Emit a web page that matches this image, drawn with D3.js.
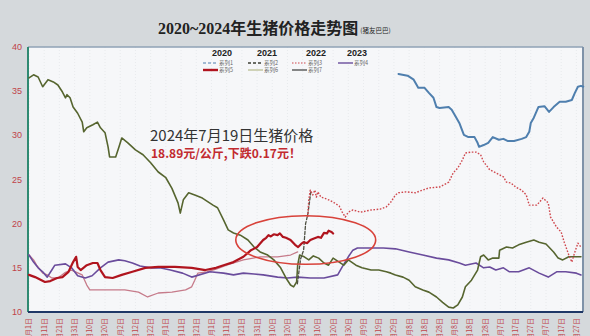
<!DOCTYPE html>
<html>
<head>
<meta charset="utf-8">
<script src="https://cdn.jsdelivr.net/npm/d3@7/dist/d3.min.js"></script>
<style>
  html, body { margin: 0; padding: 0; background: #d5d9dc; }
  svg { display: block; }
</style>
</head>
<body>
<svg id="chart" width="590" height="336"></svg>
<script>
// Live hog price, yuan/kg, by day of year: [day, price]
const series2020 = [
  [244,36.95],[250,36.75],[254,36.3],[257,35.4],[261,35.4],[264,34.8],[267,34.25],[269,33.2],
  [271,33.1],[277,33.2],[279,32.9],[281,32.3],[284,31.4],[287,30.05],[290,29.8],[294,29.8],
  [296,29.15],[297,28.7],[300,28.9],[303,29.15],[306,29.8],[310,29.5],[313,29.6],[316,29.35],
  [320,29.35],[325,29.6],[328,29.8],[330,30.4],[331,31.4],[333,32.0],[336,33.2],[340,33.3],
  [343,32.65],[346,33.2],[350,33.8],[354,33.8],[358,34.0],[360,34.8],[362,35.5],[364,35.6],[365.5,35.5]
];
const series2021 = [
  [1,36.5],[4,36.85],[7,36.6],[10,35.5],[13.5,36.3],[17,36.05],[20,35.7],[23,34.9],[25,34.25],
  [26,34.6],[28,34.25],[30,33.2],[33,32.5],[36,31.5],[37,30.4],[39,30.85],[43,31.2],[46,31.5],
  [48,30.85],[51,30.3],[53,28.7],[54,27.55],[58,27.55],[60,28.6],[62,29.7],[66,29.15],[71,28.35],
  [76,27.8],[81,26.9],[86,25.85],[91,25.2],[95,24.0],[99,22.35],[100.5,21.2],[102.5,22.7],
  [106,23.5],[110,23.25],[115,22.9],[122,22.1],[125,21.8],[129,20.4],[132,19.3],[135.5,18.95],
  [140,18.7],[145,18.15],[149,17.35],[153,16.8],[158,16.45],[162,15.9],[166.5,15.0],[170,13.85],
  [173,13.05],[175,12.85],[177,13.4],[177.7,15.3],[179,16.45],[182,16.25],[185,15.9],[188,16.35],
  [191.5,16.1],[195,15.55],[198,15.3],[201,16.1],[205,15.65],[208,15.3],[211,15.9],[216,15.3],
  [220,15.0],[226,14.75],[231,14.75],[236,14.55],[239,14.4],[242,14.2],[247,13.95],[251,13.6],
  [255,12.85],[260,12.5],[264,12.25],[269,11.7],[273,11.1],[277,10.55],[280,10.45],[283,10.8],
  [286,11.7],[288,12.85],[292,13.6],[296,14.75],[298,16.25],[300,16.45],[303,15.9],[306,16.1],
  [310,16.1],[310.5,17.0],[315,17.35],[319,17.25],[323,17.6],[328,17.9],[333,18.15],[336.5,17.9],
  [341,17.7],[346,16.8],[349,16.1],[352,15.9],[356,16.25],[359,16.25],[364,16.25]
];
const series2022a = [
  [1,16.45],[4,15.9],[6,15.3],[10,14.4],[13,14.2],[16,13.85],[20,13.85],[25,14.5],[29,14.75],
  [36,14.2],[39,13.05],[41,12.5],[44.5,12.5],[56,12.5],[64,12.5],[73,12.25],[79,11.7],[86,12.15],
  [95,12.25],[104,12.5],[108,12.85],[110,13.6],[112,14.4],[118,14.55],[124,14.85],[131,15.3],
  [142,15.9],[153,16.25],[164.5,16.25],[173,16.45],[177.7,16.8]
];
const series2022jump = [
  [177.5,13.2],[179.6,16.0],[181.6,17.0],[182.9,20.0],[184.3,21.0],[185.5,22.5],[186.5,23.8]
];
const series2022b = [
  [184.3,20.75],[185,22.7],[186,23.8],[187.6,23.25],[189,23.8],[190,23.0],[191,23.6],[193,23.0],
  [195,22.9],[198,22.7],[201,22.45],[205,22.0],[207,21.3],[209,20.75],[211,21.3],[214,21.55],
  [219,21.3],[226,21.55],[232,21.65],[236,21.9],[239,22.45],[242,23.25],[244,23.5],[249,23.6],
  [255,23.5],[264,24.05],[271,24.15],[277,24.7],[280,25.75],[283,26.3],[286,27.2],[288,28.0],
  [292,28.1],[295,28.1],[298,27.8],[300,27.0],[304,26.1],[308,25.75],[313,25.3],[315,24.7],
  [318,24.6],[321,24.15],[325,23.8],[328,23.25],[330,22.1],[335,22.1],[339,22.9],[342.5,22.35],
  [344,20.75],[348,19.6],[351,19.05],[353,17.9],[356,16.45],[358,15.65],[360,16.8],[362,17.8],[364,17.35]
];
const series2023 = [
  [1,16.45],[4,15.65],[7,15.0],[10,14.55],[13,13.95],[16,14.75],[18,15.3],[25,15.45],[29,15.0],
  [33,14.1],[38,13.85],[42.5,14.1],[48,15.0],[53,15.65],[60,15.9],[64,15.8],[69,15.55],[74,15.2],
  [81,15.0],[87,15.0],[94,14.75],[102,14.4],[108,13.95],[120,14.55],[129,14.4],[135.5,14.2],
  [142,14.4],[149,14.3],[155,14.2],[164.5,13.95],[171,13.85],[177.7,13.95],[186,13.85],[195,13.85],
  [204,14.2],[207,15.1],[211,16.25],[214,17.0],[217,17.25],[226,17.25],[234,17.25],[242,17.15],
  [251,16.8],[260,16.45],[269,16.1],[277,15.9],[284,15.55],[288,15.3],[295,15.55],[300,15.0],
  [304,15.1],[308,14.75],[313,15.0],[317,14.55],[323,14.55],[330,15.0],[336.5,14.4],[342.5,13.95],
  [348,14.55],[354,14.55],[361,14.4],[364,14.2]
];
const series2024 = [
  [1,14.2],[5,13.95],[11.5,13.4],[15,13.5],[19.5,13.85],[23,13.95],[27,14.55],[30,15.65],[32,16.25],
  [33,15.1],[35,14.75],[39,15.3],[43,15.55],[46,15.55],[48,14.75],[51,13.95],[56,13.85],[62,14.2],
  [69,14.55],[77.5,15.0],[86,15.1],[97,15.1],[108,15.0],[117,14.75],[124,15.0],[129,15.3],
  [135.5,15.65],[142,16.25],[147,17.0],[151,17.35],[155,18.15],[157,18.4],[158.5,18.7],[160,18.55],
  [162,18.8],[164.5,18.7],[166,18.9],[168,18.5],[170,18.4],[173,18.15],[176,17.6],[178,17.35],
  [180,17.7],[181.6,17.9],[184,17.8],[186,18.15],[188,18.3],[191,18.5],[193,18.4],[195,18.95],
  [197,18.9],[198,19.2],[200,19.06],[201,18.89]
];

const xTickDays = [1,11,21,31,41,51,61,71,81,91,101,111,121,131,141,151,161,171,181,191,201,211,
  221,231,241,251,261,271,281,291,301,311,321,331,341,351,361];
const xTickLabels = ["1月1日","1月11日","1月21日","1月31日","2月10日","2月20日","3月2日","3月12日",
  "3月22日","4月1日","4月11日","4月21日","5月1日","5月11日","5月21日","5月31日","6月10日","6月20日",
  "6月30日","7月10日","7月20日","7月30日","8月9日","8月19日","8月29日","9月8日","9月18日","9月28日",
  "10月8日","10月18日","10月28日","11月7日","11月17日","11月27日","12月7日","12月17日","12月27日"];
const yTicks = [10,15,20,25,30,35,40];

const legendYears = ["2020","2021","2022","2023"];
const legendNames = ["系列1","系列2","系列3","系列4","系列5","系列6","系列7"];

// Highlighted window around the recent 2024 prices
const highlight = { dayFrom: 137, dayTo: 229, low: 15.4, high: 20.9 };

const svg = d3.select("#chart");
const W = 590, H = 336;
const plot = { left: 28, right: 583, top: 47, bottom: 312 };

const x = d3.scaleLinear().domain([1, 366]).range([29, 584]);
const y = d3.scaleLinear().domain([10, 40]).range([plot.bottom, plot.top]);

// page background
svg.append("rect").attr("width", W).attr("height", H).attr("fill", "#d5d9dc");

// plot panel
svg.append("rect")
  .attr("x", plot.left).attr("y", plot.top)
  .attr("width", plot.right - plot.left).attr("height", plot.bottom - plot.top)
  .attr("fill", "#f6f7f9");

// faint vertical grid
svg.append("g").selectAll("line").data(xTickDays).join("line")
  .attr("x1", d => x(d)).attr("x2", d => x(d))
  .attr("y1", plot.top).attr("y2", plot.bottom)
  .attr("stroke", "#e4e7ea").attr("stroke-width", 0.8).attr("stroke-dasharray", "1,2");

// panel borders
const border = svg.append("g");
border.append("line").attr("x1", plot.left).attr("x2", plot.right).attr("y1", plot.top).attr("y2", plot.top)
  .attr("stroke", "#8fa2b6").attr("stroke-width", 1.5);
border.append("line").attr("x1", plot.right).attr("x2", plot.right).attr("y1", plot.top).attr("y2", plot.bottom)
  .attr("stroke", "#7f92a8").attr("stroke-width", 2);
border.append("line").attr("x1", plot.left).attr("x2", plot.left).attr("y1", plot.top).attr("y2", plot.bottom)
  .attr("stroke", "#2f8a72").attr("stroke-width", 2);
border.append("line").attr("x1", plot.left).attr("x2", plot.right).attr("y1", plot.bottom).attr("y2", plot.bottom)
  .attr("stroke", "#1f3766").attr("stroke-width", 2.2);

// y axis labels
svg.append("g").selectAll("text").data(yTicks).join("text")
  .attr("x", 17).attr("y", d => y(d)).attr("dy", "0.35em")
  .attr("text-anchor", "middle")
  .attr("font-family", "'Liberation Sans', Arial, sans-serif")
  .attr("font-size", 9).attr("fill", "#c0434a")
  .text(d => d);

// x axis labels, rotated
svg.append("g").selectAll("text").data(xTickDays).join("text")
  .attr("transform", d => `translate(${x(d)},318) rotate(-90)`)
  .attr("dy", "0.35em")
  .attr("text-anchor", "end")
  .attr("font-family", "'Noto Sans CJK SC', sans-serif")
  .attr("font-size", 7).attr("fill", "#c0434a")
  .text((d, i) => xTickLabels[i]);

const line = d3.line().x(d => x(d[0])).y(d => y(d[1])).curve(d3.curveLinear);
const lines = svg.append("g").attr("fill", "none").attr("stroke-linejoin", "round").attr("stroke-linecap", "round");

lines.append("path").datum(series2022a).attr("d", line)
  .attr("stroke", "#c67b8a").attr("stroke-width", 1.3);
lines.append("path").datum(series2023).attr("d", line)
  .attr("stroke", "#6a4c9c").attr("stroke-width", 1.6);
lines.append("path").datum(series2021).attr("d", line)
  .attr("stroke", "#56652f").attr("stroke-width", 1.6);
lines.append("path").datum(series2022jump).attr("d", line)
  .attr("stroke", "#4d4f42").attr("stroke-width", 1.3).attr("stroke-dasharray", "3,2");
lines.append("path").datum(series2022b).attr("d", line)
  .attr("stroke", "#cf474d").attr("stroke-width", 1.4).attr("stroke-dasharray", "1.6,1.6")
  .attr("stroke-linecap", "butt");
lines.append("path").datum(series2020).attr("d", line)
  .attr("stroke", "#4f7fae").attr("stroke-width", 2);
lines.append("path").datum(series2024).attr("d", line)
  .attr("stroke", "#b0141e").attr("stroke-width", 2.2);

// highlight ellipse
const ex0 = x(highlight.dayFrom), ex1 = x(highlight.dayTo);
const ey0 = y(highlight.high), ey1 = y(highlight.low);
svg.append("ellipse")
  .attr("cx", (ex0 + ex1) / 2).attr("cy", (ey0 + ey1) / 2)
  .attr("rx", (ex1 - ex0) / 2).attr("ry", (ey1 - ey0) / 2)
  .attr("fill", "none").attr("stroke", "#d8423a").attr("stroke-width", 1.6);

// title
const title = svg.append("text")
  .attr("x", 158).attr("y", 34)
  .attr("font-family", "'Liberation Serif', 'Noto Sans CJK SC', serif")
  .attr("font-weight", "bold").attr("font-size", 16).attr("fill", "#222");
title.append("tspan").text("2020~2024年生猪价格走势图");
title.append("tspan").attr("font-size", 6.5).attr("font-weight", "normal").attr("dx", 2).attr("dy", -1)
  .attr("font-family", "'Noto Sans CJK SC', sans-serif").text("(猪友巴巴)");

// legend
const legend = svg.append("g").attr("font-family", "'Noto Sans CJK SC', sans-serif");
const yearX = [222, 267, 316, 357];
legend.selectAll("text.year").data(legendYears).join("text")
  .attr("class", "year")
  .attr("x", (d, i) => yearX[i]).attr("y", 56)
  .attr("text-anchor", "middle").attr("font-size", 9).attr("font-weight", "bold").attr("fill", "#222")
  .attr("font-family", "'Liberation Sans', Arial, sans-serif")
  .text(d => d);
const legendStyle = [
  { col: 0, row: 0, stroke: "#4f7fae", w: 1.2, dash: "3,2" },
  { col: 1, row: 0, stroke: "#3c3f35", w: 1.4, dash: "3,2" },
  { col: 2, row: 0, stroke: "#cf474d", w: 1.2, dash: "1.5,1.5" },
  { col: 3, row: 0, stroke: "#6a4c9c", w: 1.4, dash: null },
  { col: 0, row: 1, stroke: "#b0141e", w: 2.4, dash: null },
  { col: 1, row: 1, stroke: "#b5b98a", w: 1.2, dash: null },
  { col: 2, row: 1, stroke: "#555", w: 1.4, dash: null }
];
const colX = [203, 248, 292, 338];
const rowY = [63, 70];
legendStyle.forEach((s, i) => {
  const lx = colX[s.col], ly = rowY[s.row];
  legend.append("line").attr("x1", lx).attr("x2", lx + 15).attr("y1", ly).attr("y2", ly)
    .attr("stroke", s.stroke).attr("stroke-width", s.w).attr("stroke-dasharray", s.dash);
  legend.append("text").attr("x", lx + 16).attr("y", ly).attr("dy", "0.35em")
    .attr("font-size", 5.5).attr("fill", "#666").text(legendNames[i]);
});

// annotation
svg.append("text").attr("x", 150).attr("y", 141)
  .attr("font-family", "'Noto Sans CJK SC', sans-serif")
  .attr("font-size", 15).attr("fill", "#333")
  .text("2024年7月19日生猪价格");
svg.append("text").attr("x", 151).attr("y", 158)
  .attr("font-family", "'Noto Sans CJK SC', sans-serif")
  .attr("font-size", 12).attr("font-weight", "bold").attr("fill", "#c22a2f")
  .text("18.89元/公斤,下跌0.17元！");
</script>
</body>
</html>
